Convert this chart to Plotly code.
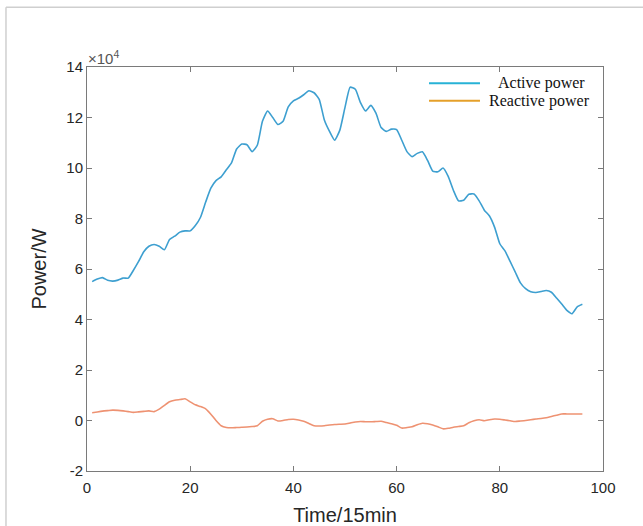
import plotly.graph_objects as go

# Time index (15-minute intervals over one day)
time_idx = list(range(1, 97))

# Active power, in units of 10^4 W
active_power = [
    5.50, 5.60, 5.66, 5.55, 5.52, 5.56, 5.64, 5.64, 5.95, 6.30,
    6.68, 6.90, 6.97, 6.90, 6.76, 7.17, 7.30, 7.46, 7.51, 7.51,
    7.72, 8.05, 8.65, 9.20, 9.50, 9.65, 9.93, 10.20, 10.75, 10.95,
    10.92, 10.65, 10.90, 11.85, 12.26, 12.00, 11.72, 11.85, 12.42, 12.66,
    12.76, 12.90, 13.06, 12.98, 12.72, 11.90, 11.45, 11.10, 11.50, 12.40,
    13.20, 13.12, 12.59, 12.26, 12.48, 12.17, 11.60, 11.45, 11.54, 11.52,
    11.10, 10.65, 10.45, 10.58, 10.64, 10.30, 9.88, 9.85, 10.00, 9.67,
    9.12, 8.70, 8.72, 8.96, 8.97, 8.70, 8.33, 8.10, 7.65, 7.00,
    6.72, 6.30, 5.88, 5.45, 5.22, 5.10, 5.07, 5.11, 5.15, 5.08,
    4.85, 4.61, 4.36, 4.23, 4.50, 4.60,
]

# Reactive power, in units of 10^4 W
reactive_power = [
    0.31, 0.34, 0.37, 0.39, 0.41, 0.40, 0.38, 0.35, 0.32, 0.34,
    0.36, 0.38, 0.35, 0.45, 0.60, 0.74, 0.80, 0.83, 0.86, 0.74,
    0.62, 0.55, 0.46, 0.25, 0.00, -0.21, -0.28, -0.29, -0.28, -0.27,
    -0.26, -0.24, -0.21, -0.03, 0.05, 0.07, -0.02, 0.00, 0.04, 0.05,
    0.02, -0.03, -0.12, -0.21, -0.22, -0.21, -0.18, -0.16, -0.15, -0.14,
    -0.10, -0.06, -0.04, -0.05, -0.05, -0.04, -0.03, -0.08, -0.13, -0.19,
    -0.30, -0.28, -0.25, -0.17, -0.11, -0.13, -0.18, -0.25, -0.33, -0.31,
    -0.27, -0.24, -0.21, -0.09, -0.01, 0.03, -0.01, 0.03, 0.06, 0.05,
    0.02, -0.01, -0.04, -0.02, 0.00, 0.03, 0.06, 0.08, 0.11, 0.16,
    0.21, 0.26, 0.26, 0.26, 0.26, 0.26,
]

series_names = ["Active power", "Reactive power"]
line_colors = ["#3d9fd0", "#ee9272"]
legend_colors = ["#27b2d6", "#e5a02a"]

x_ticks = [0, 20, 40, 60, 80, 100]
y_ticks = [-2, 0, 2, 4, 6, 8, 10, 12, 14]

SANS = "Liberation Sans, Arial, sans-serif"
SERIF = "Liberation Serif, Times New Roman, serif"

fig = go.Figure()

for name, values, color in zip(series_names, [active_power, reactive_power], line_colors):
    fig.add_trace(go.Scatter(
        x=time_idx, y=values, mode="lines", name=name,
        line=dict(color=color, width=1.6, shape="spline", smoothing=0.5),
        showlegend=False,
    ))

axis_common = dict(
    showline=True, linecolor="#7a7a7a", linewidth=1,
    mirror="ticks", ticks="inside", ticklen=5, tickcolor="#7a7a7a",
    showgrid=False, zeroline=False, automargin=False,
    tickfont=dict(family=SANS, size=15, color="#262626"),
)

fig.update_xaxes(
    range=[0, 100], tickvals=x_ticks, ticktext=[str(v) for v in x_ticks],
    ticklabelstandoff=3,
    title=dict(text="Time/15min", font=dict(family=SANS, size=20, color="#262626"), standoff=12),
    **axis_common,
)
fig.update_yaxes(
    range=[-2, 14], tickvals=y_ticks, ticktext=[str(v) for v in y_ticks],
    title=dict(text="Power/W", font=dict(family=SANS, size=20, color="#262626"), standoff=14),
    **axis_common,
)

# exponent marker above the y axis
fig.add_annotation(
    xref="paper", yref="paper", x=0, y=1, xanchor="left", yanchor="bottom",
    text="×10<sup>4</sup>", showarrow=False, xshift=-1, yshift=-2,
    font=dict(family=SANS, size=15, color="#555555"),
)

# legend: short line swatch followed by the series label
legend_rows = [0.9597, 0.9166]
legend_text_x = [0.7946, 0.7771]
for name, color, ly, tx in zip(series_names, legend_colors, legend_rows, legend_text_x):
    fig.add_shape(type="line", xref="paper", yref="paper",
                  x0=0.6628, x1=0.7616, y0=ly, y1=ly,
                  line=dict(color=color, width=2))
    fig.add_annotation(
        xref="paper", yref="paper", x=tx, y=ly, xanchor="left", yanchor="middle",
        text=name, showarrow=False, borderpad=0,
        font=dict(family=SERIF, size=16, color="#111111"),
    )

# outer figure frame (left and top edges)
frame = dict(color="#cfcfcf", width=1.5)
fig.add_shape(type="line", xref="paper", yref="paper", x0=-0.157, x1=-0.157, y0=-0.2, y1=1.148, line=frame)
fig.add_shape(type="line", xref="paper", yref="paper", x0=-0.157, x1=1.1, y0=1.148, y1=1.148, line=frame)

fig.update_layout(
    width=643, height=526,
    margin=dict(l=87, r=40, t=67, b=55, pad=0),
    paper_bgcolor="white", plot_bgcolor="white",
    showlegend=False,
)

fig.write_html("out.html")
